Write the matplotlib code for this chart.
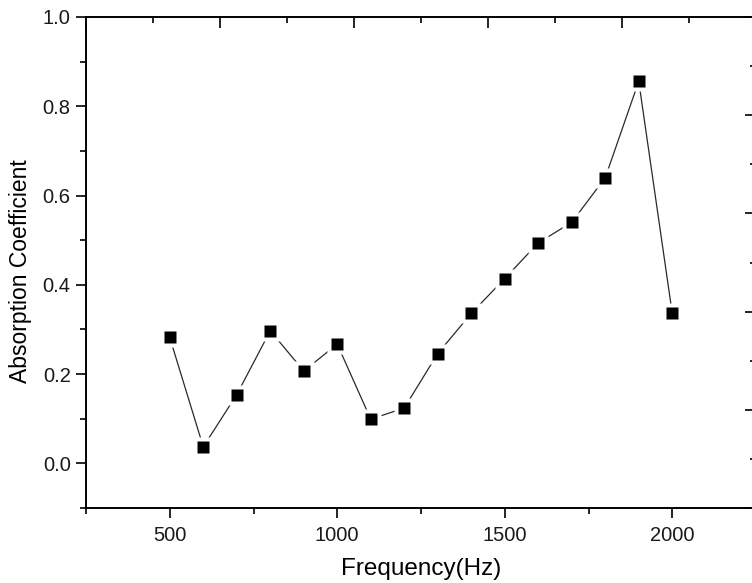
import matplotlib
matplotlib.use("Agg")
import matplotlib.pyplot as plt
from matplotlib.ticker import MultipleLocator, FormatStrFormatter

plt.rcParams['font.family'] = ['Liberation Sans', 'DejaVu Sans']

# data
frequency = [500, 600, 700, 800, 900, 1000, 1100, 1200,
             1300, 1400, 1500, 1600, 1700, 1800, 1900, 2000]
absorption = [0.282, 0.037, 0.154, 0.297, 0.207, 0.267, 0.099, 0.124,
              0.246, 0.336, 0.414, 0.494, 0.540, 0.640, 0.856, 0.336]

fig = plt.figure(figsize=(7.52, 5.83), dpi=100)
pos = [86 / 752, 75 / 583, 670 / 752, 491 / 583]
ax = fig.add_axes(pos)

# line, then white squares to open a gap, then the black squares
ax.plot(frequency, absorption, color='#2a2a2a', lw=0.9, zorder=2)
ax.plot(frequency, absorption, ls='none', marker='s', ms=14,
        mfc='white', mec='none', zorder=3)
ax.plot(frequency, absorption, ls='none', marker='s', ms=8.2,
        mfc='black', mec='none', zorder=4)

ax.set_xlim(250, 2250)
ax.set_ylim(-0.1, 1.0)
ax.xaxis.set_major_locator(MultipleLocator(500))
ax.xaxis.set_minor_locator(MultipleLocator(250))
ax.yaxis.set_major_locator(MultipleLocator(0.2))
ax.yaxis.set_minor_locator(MultipleLocator(0.1))
ax.yaxis.set_major_formatter(FormatStrFormatter('%.1f'))

for s in ax.spines.values():
    s.set_linewidth(1.4)
ax.tick_params(which='major', direction='out', length=7, width=1.2,
               labelsize=14.5, labelcolor='#1a1a1a', pad=4)
ax.tick_params(which='minor', direction='out', length=4, width=1.2)
ax.tick_params(axis='x', which='major', pad=6)

ax.set_xlabel('Frequency(Hz)', fontsize=17.5, labelpad=9)
ax.set_ylabel('Absorption Coefficient', fontsize=16.5)
ax.yaxis.set_label_coords(-0.08, 0.483)

# ticks on the top and right spines come from another layer
ax2 = fig.add_axes(pos, frameon=False)
ax2.set_xlim(0, 10)
ax2.set_ylim(0, 10)
ax2.xaxis.tick_top()
ax2.yaxis.tick_right()
ax2.xaxis.set_major_locator(MultipleLocator(2))
ax2.xaxis.set_minor_locator(MultipleLocator(1))
ax2.yaxis.set_major_locator(MultipleLocator(2))
ax2.yaxis.set_minor_locator(MultipleLocator(1))
ax2.tick_params(which='both', direction='in', width=1.2,
                labeltop=False, labelright=False)
ax2.tick_params(which='major', length=8)
ax2.tick_params(which='minor', length=4.5)

fig.savefig('out.png', dpi=100)
